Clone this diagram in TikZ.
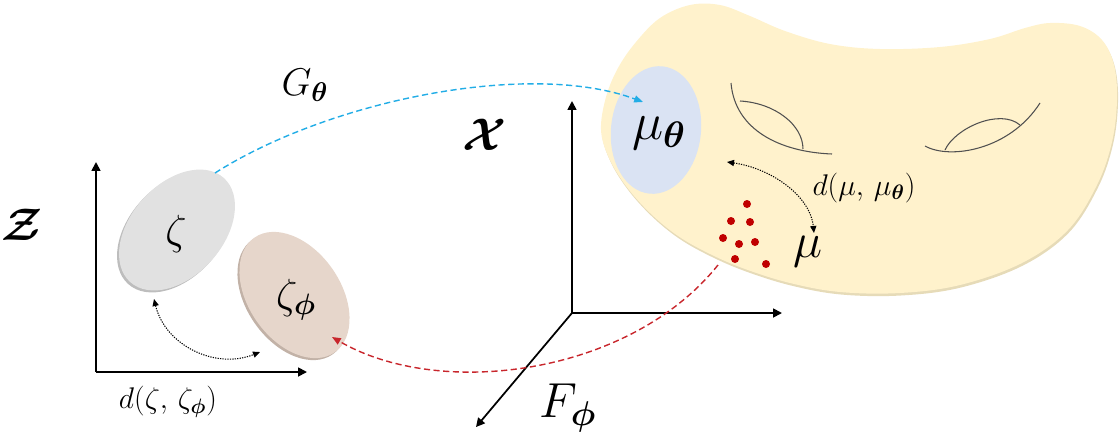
\RequirePackage{fix-cm}
\documentclass[tikz,border=0pt]{standalone}
\usepackage{bm}
\usetikzlibrary{arrows.meta,shapes.geometric}
\definecolor{blobfill}{HTML}{FFF2CC}
\definecolor{blobshadow}{HTML}{E6DBB8}
\definecolor{bluefill}{HTML}{DAE3F3}
\definecolor{grayfill}{HTML}{E1E1E1}
\definecolor{grayshadow}{HTML}{BDBDBD}
\definecolor{pinkfill}{HTML}{E6D6CB}
\definecolor{pinkshadow}{HTML}{C2B2A7}
\definecolor{gblue}{HTML}{22ADE6}
\definecolor{fred}{HTML}{C8262C}
\definecolor{dotred}{HTML}{C00000}
\definecolor{arcgray}{HTML}{505050}
\begin{document}
\begin{tikzpicture}[x=0.02cm,y=-0.02cm,
  axis/.style={line width=1pt,-{Triangle[length=5pt,width=5pt]}},
  dotarr/.style={line width=0.6pt,dash pattern=on 0.7pt off 0.7pt,
    {Triangle[length=4pt,width=3.5pt]}-{Triangle[length=4pt,width=3.5pt]}},
  dasharr/.style={line width=0.8pt,dash pattern=on 3.5pt off 2pt,-{Triangle[length=5pt,width=4pt]}},
  arcline/.style={line width=0.6pt,draw=arcgray},
  reddot/.style={circle,fill=dotred,inner sep=0pt,minimum size=0.16cm},
  blobel/.style={ellipse,inner sep=0pt,minimum width=2.8cm,minimum height=1.84cm},
  lbl/.style={inner sep=0pt,text=black}]
\useasboundingbox (0,0) rectangle (1120,440);

% manifold blob
\fill[blobshadow,shift={(1,2.5)}] plot[smooth cycle,tension=0.6] coordinates {
 (601,130) (606,97) (618,68) (636,42) (660,18) (690,5) (720,5) (750,16) (785,31)
 (830,44) (880,49) (940,47) (990,39) (1025,28) (1050,23) (1080,26) (1102,40)
 (1114,65) (1117,100) (1112,142) (1097,185) (1068,230) (1022,263) (960,285)
 (900,293) (840,292) (790,283) (745,269) (710,254) (678,236) (650,213) (626,186) (609,158)};
\fill[blobfill] plot[smooth cycle,tension=0.6] coordinates {
 (601,130) (606,97) (618,68) (636,42) (660,18) (690,5) (720,5) (750,16) (785,31)
 (830,44) (880,49) (940,47) (990,39) (1025,28) (1050,23) (1080,26) (1102,40)
 (1114,65) (1117,100) (1112,142) (1097,185) (1068,230) (1022,263) (960,285)
 (900,293) (840,292) (790,283) (745,269) (710,254) (678,236) (650,213) (626,186) (609,158)};

% holes on the manifold
\draw[arcline] (731,83) .. controls (735,130) and (780,152) .. (832,154);
\draw[arcline] (740,101) .. controls (775,103) and (803,125) .. (803,149);
\draw[arcline] (925,146) .. controls (950,160) and (1010,150) .. (1040,103);
\draw[arcline] (945,150) .. controls (955,128) and (1000,108) .. (1020,125);

% mu_theta region
\node[ellipse,inner sep=0pt,minimum width=1.8cm,minimum height=2.56cm,fill=bluefill,rotate=-6] (mth) at (656,130) {};

% axes of X
\coordinate (xO) at (572,313);
\coordinate (xY) at (572,101);
\coordinate (xX) at (782,313);
\coordinate (xZ) at (476,427);
\draw[axis] (xO) -- (xY);
\draw[axis] (xO) -- (xX);
\draw[axis] (xO) -- (xZ);

% axes of Z
\coordinate (zO) at (96,372);
\coordinate (zY) at (96,162);
\coordinate (zX) at (307,372);
\draw[axis] (zO) -- (zY);
\draw[axis] (zO) -- (zX);

% latent ellipses
\node[blobel,fill=grayshadow,rotate=48] (zetash) at (175,232) {};
\node[blobel,fill=grayfill,rotate=48] (zetael) at (177,230) {};
\node[blobel,fill=pinkshadow,rotate=-55] (zphish) at (292.5,297) {};
\node[blobel,fill=pinkfill,rotate=-55] (zphiel) at (294.5,295) {};

% samples
\node[reddot] (d1) at (747,204) {};
\node[reddot] (d2) at (731,221) {};
\node[reddot] (d3) at (750,222) {};
\node[reddot] (d4) at (723,238) {};
\node[reddot] (d5) at (739,244) {};
\node[reddot] (d6) at (755,242) {};
\node[reddot] (d7) at (735,259) {};
\node[reddot] (d8) at (766,264) {};

% connectors
\coordinate (gs) at (215,173);
\coordinate (ge) at (643,102);
\draw[dasharr,draw=gblue,-{Triangle[length=5pt,width=4pt,fill=gblue]}] (gs) .. controls (330,100) and (530,60) .. (ge);
\coordinate (fs) at (718,265);
\coordinate (fe) at (332,337);
\draw[dasharr,draw=fred,-{Triangle[length=5pt,width=4pt,fill=fred]}] (fs) .. controls (630,375) and (440,400) .. (fe);
\coordinate (ls) at (154,299);
\coordinate (le) at (260,352);
\draw[dotarr] (ls) .. controls (165,345) and (215,370) .. (le);
\coordinate (rs) at (727,162);
\coordinate (re) at (814,233);
\draw[dotarr] (rs) .. controls (770,168) and (810,195) .. (re);

% labels
\node[lbl,font=\fontsize{26}{30}\selectfont] (Zl) at (22,225) {$\bm{\mathcal{Z}}$};
\node[lbl,font=\fontsize{26}{30}\selectfont] (Xl) at (485,135) {$\bm{\mathcal{X}}$};
\node[lbl,font=\fontsize{22}{26}\selectfont] (Gl) at (305,85) {$G_{\bm{\theta}}$};
\node[lbl,font=\fontsize{28}{32}\selectfont] (Fl) at (568,408) {$F_{\bm{\phi}}$};
\node[lbl,font=\fontsize{24}{28}\selectfont] (zl) at (176,234) {$\zeta$};
\node[lbl,font=\fontsize{24}{28}\selectfont] (zpl) at (296,300) {$\zeta_{\bm{\phi}}$};
\node[lbl,font=\fontsize{17}{20}\selectfont] (dzl) at (168,402) {$d(\zeta,\,\zeta_{\bm{\phi}})$};
\node[lbl,font=\fontsize{30}{34}\selectfont] (mtl) at (659,133) {$\mu_{\bm{\theta}}$};
\node[lbl,font=\fontsize{17}{20}\selectfont] (dml) at (864,188) {$d(\mu,\,\mu_{\bm{\theta}})$};
\node[lbl,font=\fontsize{28}{32}\selectfont] (ml) at (808,252) {$\mu$};
\end{tikzpicture}
\end{document}
